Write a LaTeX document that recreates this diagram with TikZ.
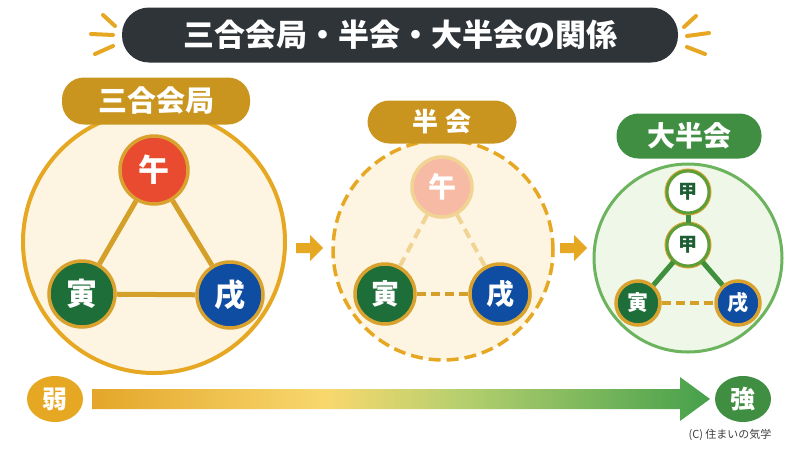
\documentclass[tikz,border=0pt]{standalone}
\usepackage{fontspec}
\setmainfont{Noto Sans CJK JP}
\usetikzlibrary{shapes.geometric}

\definecolor{titlebg}{HTML}{2F3439}
\definecolor{raygold}{HTML}{E6A823}
\definecolor{labelgold}{HTML}{C9951F}
\definecolor{labelgreen}{HTML}{3F8E41}
\definecolor{ringgold}{HTML}{D9A22E}
\definecolor{cream}{HTML}{FDF5E2}
\definecolor{mint}{HTML}{EEF7E8}
\definecolor{panelgreen}{HTML}{6CB35E}
\definecolor{wured}{HTML}{E94B30}
\definecolor{yingreen}{HTML}{1E6E39}
\definecolor{xublue}{HTML}{0E4DA2}
\definecolor{fadered}{HTML}{F7BBA5}
\definecolor{fadegold}{HTML}{F1D493}
\definecolor{linkgold}{HTML}{D4A02A}
\definecolor{linkgreen}{HTML}{3F8F3C}
\definecolor{jiagreen}{HTML}{1D5E33}
\definecolor{ringgreen}{HTML}{5E9E38}
\definecolor{scalegold}{HTML}{E4A62A}
\definecolor{scaleyellow}{HTML}{F8D86E}
\definecolor{scalelime}{HTML}{B5CF6E}
\definecolor{scalegreen}{HTML}{45A04B}

% stops kept inside 25bp..75bp, the part TikZ maps onto the path
\pgfdeclarehorizontalshading{strength}{100bp}{color(0bp)=(scalegold); color(25bp)=(scalegold);
  color(44bp)=(scaleyellow); color(55bp)=(scalelime); color(75bp)=(scalegreen); color(100bp)=(scalegreen)}

\tikzset{
  jp/.style={font=\bfseries\fontsize{#1}{#1}\selectfont},
  tag/.style={rectangle, rounded corners=22pt, text=white, inner sep=0pt},
  branch/.style={circle, draw=ringgold, line width=3.5pt, text=white, inner sep=0pt}
}

\begin{document}
\begin{tikzpicture}[x=1pt, y=-1pt]
  \useasboundingbox (0,0) rectangle (800,450);
  \fill[white] (0,0) rectangle (800,450);

  % title
  \node[tag, fill=titlebg, minimum width=556pt, minimum height=55pt, rounded corners=27pt, jp=31] (title) at (400,35) {三合会局・半会・大半会の関係};
  \foreach \a/\b/\c/\d in {103/15/115/26, 91/34/113/35, 95/54/113/46,
                           684/27/696/16, 687/36/709/33, 687/47/705/54}{%
    \draw[raygold, line width=4pt, line cap=round] (\a,\b) -- (\c,\d);
  }

  % sangou kaikyoku
  \node[circle, draw=raygold, line width=4pt, fill=cream, minimum size=262pt] (full) at (154,242) {};
  \node[tag, fill=labelgold, minimum width=188pt, minimum height=47pt, jp=29] (fulltag) at (156,101) {三合会局};
  \node[branch, fill=wured, minimum size=68pt, jp=31] (wuA) at (154,170) {午};
  \node[branch, fill=yingreen, minimum size=66pt, jp=31] (yinA) at (82,294) {寅};
  \node[branch, fill=xublue, minimum size=66pt, jp=31] (xuA) at (230,295) {戌};
  \draw[linkgold, line width=5pt] (wuA) -- (yinA);
  \draw[linkgold, line width=5pt] (wuA) -- (xuA);
  \draw[linkgold, line width=5pt] (yinA) -- (xuA);

  % arrows
  \foreach \ax in {296,560}{%
    \fill[raygold] (\ax,243) -- (\ax+14,243) -- (\ax+14,235) -- (\ax+27,248)
      -- (\ax+14,261) -- (\ax+14,253) -- (\ax,253) -- cycle;
  }

  % hankai
  \node[circle, draw=raygold, line width=3.5pt, dash pattern=on 12pt off 6pt, fill=cream, minimum size=220pt] (half) at (443,250) {};
  \node[tag, fill=labelgold, minimum width=149pt, minimum height=43pt, jp=26] (halftag) at (442,122) {半\hspace{7pt}会};
  \node[branch, draw=fadegold, fill=fadered, minimum size=60pt, jp=28] (wuB) at (442,187) {午};
  \node[branch, fill=yingreen, minimum size=60pt, jp=28] (yinB) at (385,294) {寅};
  \node[branch, fill=xublue, minimum size=60pt, jp=28] (xuB) at (500,294) {戌};
  \draw[fadegold, line width=4pt, dash pattern=on 10pt off 6pt] (wuB) -- (yinB);
  \draw[fadegold, line width=4pt, dash pattern=on 10pt off 6pt] (wuB) -- (xuB);
  \draw[linkgold, line width=4pt, dash pattern=on 9pt off 5pt] (yinB) -- (xuB);

  % daihankai
  \node[circle, draw=panelgreen, line width=3pt, fill=mint, minimum size=188pt] (large) at (688,258) {};
  \node[tag, fill=labelgreen, minimum width=145pt, minimum height=45pt, jp=28] (largetag) at (689,136) {大半会};
  \node[branch, draw=ringgreen, line width=3pt, fill=white, text=jiagreen, minimum size=42pt, jp=19,
        preaction={draw=ringgold, line width=5pt}] (jiaTop) at (688,192) {甲};
  \node[branch, draw=ringgreen, line width=3pt, fill=white, text=jiagreen, minimum size=42pt, jp=19,
        preaction={draw=ringgold, line width=5pt}] (jiaMid) at (688,245) {甲};
  \node[branch, fill=yingreen, minimum size=44pt, jp=21] (yinC) at (638,303) {寅};
  \node[branch, fill=xublue, minimum size=44pt, jp=21] (xuC) at (738,303) {戌};
  \draw[linkgreen, line width=5pt] (jiaTop) -- (jiaMid);
  \draw[linkgreen, line width=5pt] (jiaMid) -- (yinC);
  \draw[linkgreen, line width=5pt] (jiaMid) -- (xuC);
  \draw[linkgold, line width=4pt, dash pattern=on 9pt off 5pt] (yinC) -- (xuC);

  % strength scale
  \shade[shading=strength]
    (92,389) -- (680,389) -- (680,377) -- (710,399) -- (680,421) -- (680,409) -- (92,409) -- cycle;
  \node[ellipse, fill=raygold, minimum width=56pt, minimum height=46pt, inner sep=0pt, text=white, jp=25] (weak) at (55,399) {弱};
  \node[ellipse, fill=labelgreen, minimum width=56pt, minimum height=46pt, inner sep=0pt, text=white, jp=25] (strong) at (743,399) {強};
  \node[anchor=east, text=black!75, font=\fontsize{11}{11}\selectfont] (credit) at (775,435) {(C) 住まいの気学};
\end{tikzpicture}
\end{document}
